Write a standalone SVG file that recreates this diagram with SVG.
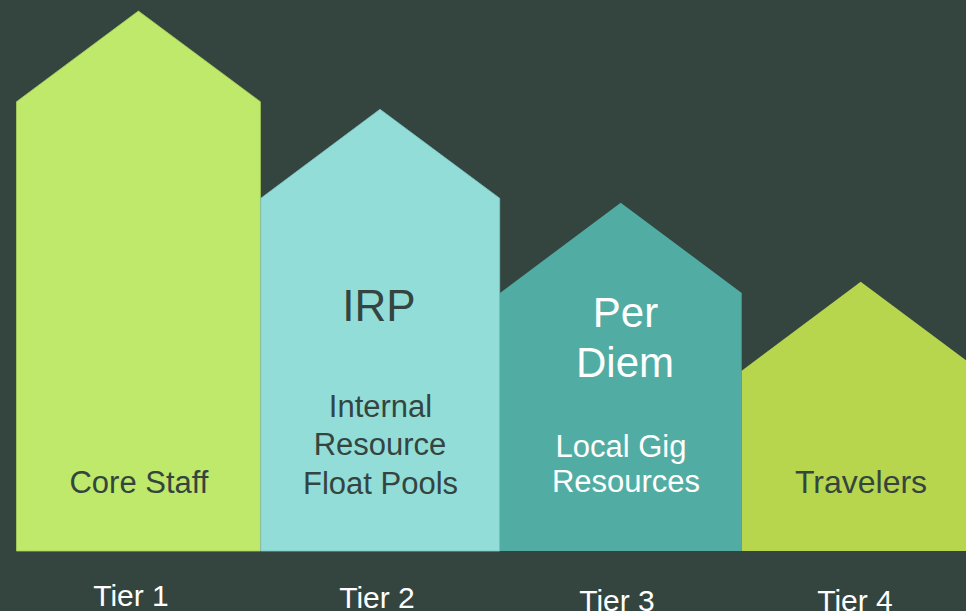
<svg xmlns="http://www.w3.org/2000/svg" width="966" height="611" viewBox="0 0 966 611">
<style>
.t{font-family:"Liberation Sans",Arial,sans-serif;text-anchor:middle}
.d{fill:#344540}
.w{fill:#ffffff}
</style>
<rect width="966" height="611" fill="#344540"/>
<g id="tier1">
<polygon points="16.5,551 16.5,101.7 138.4,11 260.4,101.7 260.4,551" fill="#BEE96A" stroke="#A9CF5C" stroke-width="0.8"/>
<text class="t d" x="139" y="493" font-size="31">Core Staff</text>
</g>
<g id="tier2">
<polygon points="260.8,551 260.8,198.3 380,109.3 499.7,198.3 499.7,551" fill="#93DDD9" stroke="#7FC4C0" stroke-width="0.8"/>
<text class="t d" x="379" y="321" font-size="44">IRP</text>
<text class="t d" x="380.5" y="417" font-size="31">Internal</text>
<text class="t d" x="380" y="455" font-size="31">Resource</text>
<text class="t d" x="380.5" y="493.5" font-size="31">Float Pools</text>
</g>
<g id="tier3">
<polygon points="500,551 500,293 620.7,202.7 741.7,293 741.7,551" fill="#51ADA3"/>
<text class="t w" x="625.5" y="326.7" font-size="42">Per</text>
<text class="t w" x="625" y="376.7" font-size="42">Diem</text>
<text class="t w" x="621" y="456.7" font-size="31">Local Gig</text>
<text class="t w" x="626" y="492" font-size="31">Resources</text>
</g>
<g id="tier4">
<polygon points="741.7,551 741.7,370.7 860.7,281.7 980,370.7 980,551" fill="#B8D64D"/>
<text class="t d" x="861" y="493.3" font-size="32">Travelers</text>
</g>
<g id="labels">
<text class="t w" x="131" y="605.7" font-size="30">Tier 1</text>
<text class="t w" x="377" y="608.3" font-size="30">Tier 2</text>
<text class="t w" x="617" y="610.5" font-size="30">Tier 3</text>
<text class="t w" x="855" y="611" font-size="30">Tier 4</text>
</g>
<g id="connectors"/>
</svg>
